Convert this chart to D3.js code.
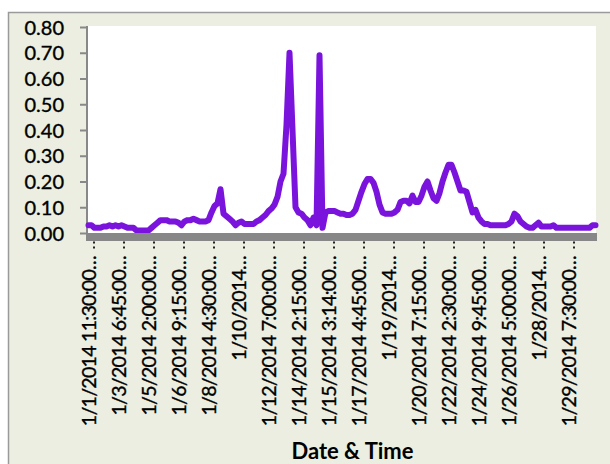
<!DOCTYPE html>
<html>
<head>
<meta charset="utf-8">
<script src="https://cdn.jsdelivr.net/npm/d3@7/dist/d3.min.js"></script>
<style>
  html, body { margin: 0; padding: 0; background: #ffffff; }
  svg { display: block; }
  text { font-family: Lato, "Open Sans", sans-serif; fill: #000; }
  .lbl { stroke: #000; stroke-width: 0.35px; }
</style>
</head>
<body>
<script>
// Readings, one per sample, in sample order
const values = [
  0.03, 0.03, 0.02, 0.02, 0.02, 0.025, 0.025, 0.03, 0.025, 0.03,
  0.025, 0.03, 0.025, 0.02, 0.02, 0.02, 0.01, 0.01, 0.01, 0.01,
  0.01, 0.02, 0.03, 0.04, 0.05, 0.05, 0.05, 0.045, 0.045, 0.045,
  0.04, 0.03, 0.045, 0.05, 0.05, 0.055, 0.05, 0.045, 0.045, 0.045,
  0.05, 0.08, 0.105, 0.115, 0.17, 0.075, 0.065, 0.055, 0.045, 0.03,
  0.04, 0.045, 0.035, 0.035, 0.035, 0.035, 0.045, 0.05, 0.06, 0.07,
  0.085, 0.095, 0.11, 0.14, 0.20, 0.23, 0.42, 0.70, 0.40, 0.10,
  0.08, 0.075, 0.06, 0.05, 0.03, 0.06, 0.03, 0.69, 0.02, 0.08,
  0.085, 0.085, 0.085, 0.08, 0.075, 0.075, 0.07, 0.07, 0.075, 0.09,
  0.125, 0.16, 0.19, 0.21, 0.21, 0.195, 0.16, 0.11, 0.08, 0.075,
  0.075, 0.075, 0.08, 0.09, 0.12, 0.125, 0.125, 0.115, 0.145, 0.12,
  0.12, 0.145, 0.18, 0.20, 0.165, 0.135, 0.125, 0.155, 0.20, 0.235,
  0.265, 0.265, 0.235, 0.20, 0.165, 0.165, 0.16, 0.12, 0.08, 0.09,
  0.06, 0.045, 0.035, 0.035, 0.03, 0.03, 0.03, 0.03, 0.03, 0.03,
  0.035, 0.045, 0.075, 0.065, 0.045, 0.035, 0.025, 0.02, 0.02, 0.03,
  0.04, 0.025, 0.025, 0.025, 0.025, 0.03, 0.02, 0.02, 0.02, 0.02,
  0.02, 0.02, 0.02, 0.02, 0.02, 0.02, 0.02, 0.02, 0.03, 0.03
];

// Category labels shown on the axis (every 10th sample)
const tickIndex = [0, 10, 20, 30, 40, 50, 60, 70, 80, 90, 100, 110, 120, 130, 140, 150, 160];
const tickLabels = [
  "1/1/2014 11:30:00\u2026", "1/3/2014 6:45:00\u2026", "1/5/2014 2:00:00\u2026",
  "1/6/2014 9:15:00\u2026", "1/8/2014 4:30:00\u2026", "1/10/2014\u2026",
  "1/12/2014 7:00:00\u2026", "1/14/2014 2:15:00\u2026", "1/15/2014 3:14:00\u2026",
  "1/17/2014 4:45:00\u2026", "1/19/2014\u2026", "1/20/2014 7:15:00\u2026",
  "1/22/2014 2:30:00\u2026", "1/24/2014 9:45:00\u2026", "1/26/2014 5:00:00\u2026",
  "1/28/2014\u2026", "1/29/2014 7:30:00\u2026"
];
const yTicks = [0, 0.1, 0.2, 0.3, 0.4, 0.5, 0.6, 0.7, 0.8];
const xTitle = "Date & Time";

const W = 610, H = 464;
const plot = { left: 87, right: 596, top: 26, bottom: 233 };

const svg = d3.select("body").append("svg")
  .attr("width", W).attr("height", H);

// chart area background and frame
svg.append("rect").attr("x", 0).attr("y", 0).attr("width", W).attr("height", H).attr("fill", "#ffffff");
svg.append("rect")
  .attr("x", 8.5).attr("y", 12.5).attr("width", W + 10).attr("height", H + 10)
  .attr("fill", "#ebeee0").attr("stroke", "#9a9a9a").attr("stroke-width", 1.5);

// plot area
svg.append("rect")
  .attr("x", plot.left).attr("y", plot.top)
  .attr("width", plot.right - plot.left).attr("height", plot.bottom - plot.top)
  .attr("fill", "#ffffff");

const x = d3.scaleLinear().domain([0, values.length - 1]).range([88.5, 595.5]);
const y = d3.scaleLinear().domain([0, 0.8]).range([233, 27]);

// y axis
const yAxis = svg.append("g").attr("transform", `translate(${plot.left},0)`)
  .call(d3.axisLeft(y).tickValues(yTicks).tickFormat(d3.format(".2f")).tickSize(7).tickPadding(16));
yAxis.select(".domain").attr("stroke", "#888").attr("stroke-width", 2)
  .attr("d", `M0,${plot.top}V${plot.bottom}`);
yAxis.selectAll(".tick line").attr("stroke", "#888").attr("stroke-width", 2);
yAxis.selectAll(".tick text")
  .attr("class", "lbl")
  .attr("font-size", 20).attr("dy", "0.36em").attr("fill", "#000")
  .style("font-family", "Lato, 'Open Sans', sans-serif");

// series line
const line = d3.line()
  .x((d, i) => x(i))
  .y(d => y(d));
svg.append("path")
  .datum(values)
  .attr("d", line)
  .attr("fill", "none")
  .attr("stroke", "#7a14dc")
  .attr("stroke-width", 6)
  .attr("stroke-linejoin", "round")
  .attr("stroke-linecap", "round");

// x axis: thick gray band
svg.append("rect")
  .attr("x", 86).attr("y", 233).attr("width", 511).attr("height", 8)
  .attr("fill", "#878787");

// x ticks (dotted)
const xt = svg.append("g");
xt.selectAll("line").data(tickIndex).join("line")
  .attr("x1", d => x(d) + 5.5).attr("x2", d => x(d) + 5.5)
  .attr("y1", 241.5).attr("y2", 250)
  .attr("stroke", "#222").attr("stroke-width", 2)
  .attr("stroke-dasharray", "2,3");

// x tick labels, rotated
xt.selectAll("text").data(tickIndex).join("text")
  .attr("class", "lbl")
  .attr("transform", d => `translate(${x(d) + 7.5},256) rotate(-90)`)
  .attr("text-anchor", "end")
  .attr("font-size", 19.5)
  .attr("letter-spacing", -0.7)
  .text((d, i) => tickLabels[i]);

// x axis title
svg.append("text")
  .attr("x", 352.5).attr("y", 459)
  .attr("text-anchor", "middle")
  .attr("font-size", 22).attr("font-weight", "bold")
  .text(xTitle);
</script>
</body>
</html>
